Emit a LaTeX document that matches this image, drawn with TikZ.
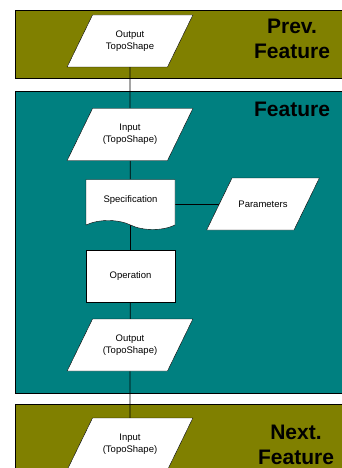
\documentclass[tikz,border=0pt]{standalone}
\usepackage{fontspec}
\setmainfont{Liberation Sans}
\usetikzlibrary{shapes.geometric,shapes.symbols}
\definecolor{bandolive}{RGB}{128,128,0}
\definecolor{bandteal}{RGB}{0,128,128}
\pgfdeclarelayer{bands}
\pgfdeclarelayer{lines}
\pgfsetlayers{bands,lines,main}
\begin{document}
\begin{tikzpicture}[x=1pt,y=-1pt,
                    band/.style={rectangle,draw=black,line width=0.8pt,inner sep=0pt,anchor=north west},
                    title/.style={font=\fontsize{21}{25}\selectfont\bfseries,align=center,inner sep=0pt},
                    data/.style={trapezium,trapezium left angle=64,trapezium right angle=116,
                                 draw,fill=white,inner xsep=4pt,inner ysep=11pt,
                                 font=\fontsize{9.5}{12}\selectfont,
                                 execute at begin node={\begin{minipage}[c][30pt][c]{#1}\centering},
                                 execute at end node={\end{minipage}}},
                    data/.default=67pt,
                    process/.style={rectangle,draw,fill=white,minimum width=89pt,minimum height=52pt,
                                    font=\fontsize{9.5}{12}\selectfont},
                    document/.style={tape,tape bend top=none,tape bend bottom=out and in,
                                     tape bend height=9pt,draw,fill=white,minimum width=89pt,
                                     minimum height=50pt,font=\fontsize{9.5}{12}\selectfont}
                   ]
  \clip (0,0) rectangle (341,468);
  % the three feature bands
  \begin{pgfonlayer}{bands}
  \fill[white] (0,0) rectangle (341,468);
  \node[band,fill=bandolive,minimum width=340pt,minimum height=68pt] (prevband) at (15,10) {};
  \node[band,fill=bandteal,minimum width=340pt,minimum height=302pt] (featband) at (15,91) {};
  \node[band,fill=bandolive,minimum width=340pt,minimum height=80pt] (nextband) at (15,404) {};
  \end{pgfonlayer}
  \node[title] (prevtitle) at (292,38.5) {Prev.\\Feature};
  \node[title] (feattitle) at (292,109) {Feature};
  \node[title] (nexttitle) at (296,445) {Next.\\Feature};
  % flow through the feature
  \node[data] (prevout) at (130,41) {Output\\TopoShape};
  \node[data] (inp) at (130,134.5) {Input\\(TopoShape)};
  \node[document] (spec) at (130.5,200) {Specification};
  \node[data=54pt] (param) at (263,204) {Parameters};
  \node[process] (oper) at (130.5,276) {Operation};
  \node[data] (outp) at (130,345) {Output\\(TopoShape)};
  \node[data] (nextin) at (130,444) {Input\\(TopoShape)};
  \begin{pgfonlayer}{lines}
  \path[draw,line width=0.8pt]
   (prevout) edge (inp)
   (inp) edge (spec)
   (spec) edge (oper)
   (oper) edge (outp)
   (outp) edge (nextin)
   (spec.east |- param.west) edge (param.west);
  \end{pgfonlayer}
\end{tikzpicture}
\end{document}
